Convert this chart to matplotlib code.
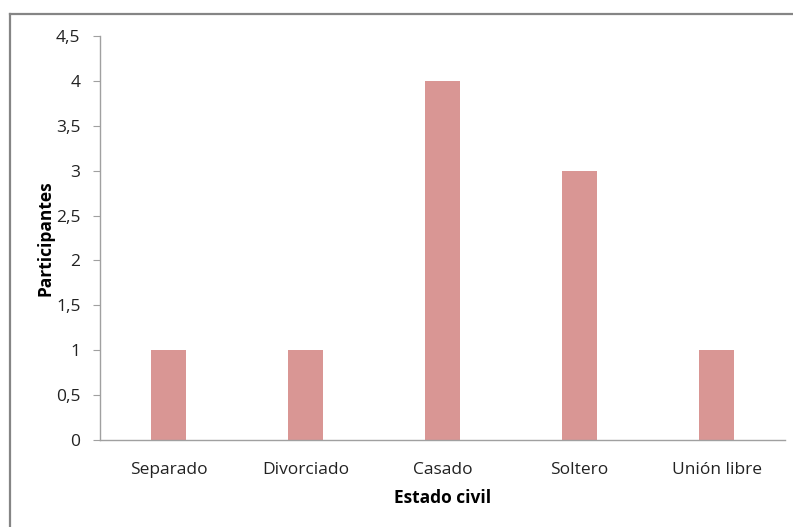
import matplotlib
matplotlib.use("Agg")
import matplotlib.pyplot as plt
from matplotlib.lines import Line2D
from matplotlib.ticker import FuncFormatter

plt.rcParams['font.family'] = ['Open Sans', 'DejaVu Sans']

categorias = ["Separado", "Divorciado", "Casado", "Soltero", "Unión libre"]
participantes = [1, 1, 4, 3, 1]
yticks = [0, 0.5, 1, 1.5, 2, 2.5, 3, 3.5, 4, 4.5]

W, H = 793, 527
fig = plt.figure(figsize=(W / 100, H / 100), dpi=100)
ax = fig.add_axes([100 / W, 1 - 439.5 / H, 685 / W, (439.5 - 36.3) / H])

x = range(len(categorias))
ax.bar(x, participantes, width=0.255, color="#D99694", edgecolor="none")

ax.set_xlim(-0.5, len(categorias) - 0.5)
ax.set_ylim(0, 4.5)
ax.set_yticks(yticks)
ax.yaxis.set_major_formatter(FuncFormatter(lambda v, p: f"{v:g}".replace(".", ",")))
ax.set_xticks(list(x))
ax.set_xticklabels(categorias)

for s in ["top", "right"]:
    ax.spines[s].set_visible(False)
for s in ["left", "bottom"]:
    ax.spines[s].set_color("#A0A0A0")
    ax.spines[s].set_linewidth(1.0)
ax.tick_params(axis="y", length=5, color="#A0A0A0", labelsize=12.5, pad=9, labelcolor="#222222")
ax.tick_params(axis="x", length=0, labelsize=12.5, pad=16, labelcolor="#222222")

ax.set_xlabel("Estado civil", fontsize=12.5, fontweight="bold", labelpad=8)
ax.set_ylabel("Participantes", fontsize=12.5, fontweight="bold", labelpad=1)

# marco exterior del gráfico (solo se ven los lados izquierdo y superior)
fig.add_artist(Line2D([10 / W, 10 / W], [0, 1 - 13.5 / H], transform=fig.transFigure,
                      color="#858585", lw=1.6))
fig.add_artist(Line2D([10 / W, 1], [1 - 13.5 / H, 1 - 13.5 / H], transform=fig.transFigure,
                      color="#858585", lw=1.6))

fig.savefig("out.png", dpi=100)
